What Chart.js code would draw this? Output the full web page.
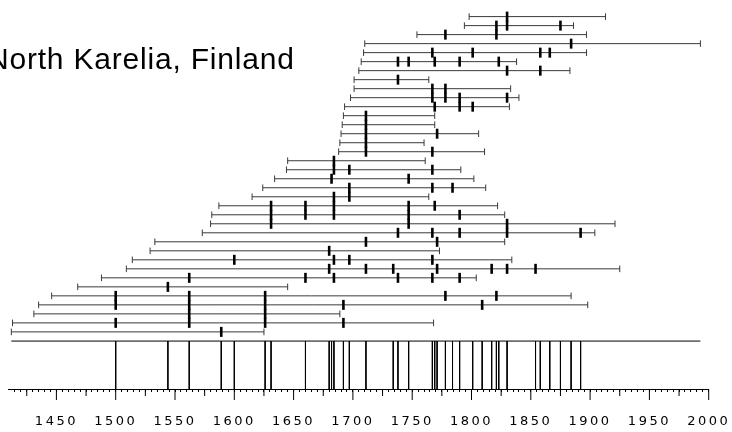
<!DOCTYPE html>
<html>
<head>
<meta charset="utf-8">
<script src="https://cdn.jsdelivr.net/npm/chart.js@4/dist/chart.umd.min.js"></script>
<style>
  html, body { margin: 0; padding: 0; background: #fff; }
  #wrap { position: relative; width: 732px; height: 432px; overflow: hidden; }
  #title {
    position: absolute; left: -13px; top: 44px;
    font-family: "Liberation Sans", Arial, sans-serif; font-size: 30px; line-height: 30px;
    letter-spacing: 0.8px; color: #000; white-space: nowrap;
  }
</style>
</head>
<body>
<div id="wrap">
  <canvas id="fire-chart"></canvas>
  <div id="title">North Karelia, Finland</div>
</div>
<script>
// one row per sampled tree, top to bottom
const ROW_START = [1798, 1794, 1754, 1710, 1709, 1707, 1705, 1701, 1701, 1698, 1693, 1692,
    1691, 1690, 1689, 1688, 1645, 1644, 1634, 1624, 1615, 1587, 1581, 1580,
    1573, 1533, 1529, 1514, 1509, 1488, 1468, 1446, 1435, 1431, 1413, 1412];
const ROW_END = [1913, 1886, 1897, 1993, 1897, 1838, 1883, 1764, 1833, 1840, 1832, 1769,
    1769, 1806, 1760, 1811, 1761, 1791, 1802, 1812, 1764, 1822, 1828, 1921,
    1904, 1828, 1773, 1834, 1925, 1804, 1645, 1884, 1898, 1689, 1768, 1625];
const ROW_SCARS = [
    [1830], [1821, 1830, 1875], [1778, 1821], [1884],
    [1767, 1801, 1858, 1866], [1738, 1747, 1769, 1790, 1823], [1830, 1858], [1738],
    [1767, 1778], [1767, 1778, 1790, 1830], [1769, 1790, 1801], [1711],
    [1711], [1711, 1771], [1711], [1711, 1767],
    [1684], [1684, 1697, 1767], [1682, 1747], [1697, 1767, 1784],
    [1684, 1697], [1631, 1660, 1684, 1747, 1769], [1631, 1660, 1684, 1747, 1790], [1631, 1747, 1830],
    [1738, 1767, 1790, 1830, 1892], [1711, 1771], [1680], [1600, 1684, 1697, 1767],
    [1680, 1711, 1734, 1771, 1817, 1830, 1854], [1562, 1660, 1684, 1738, 1767, 1790], [1544], [1500, 1562, 1626, 1778, 1821],
    [1500, 1562, 1626, 1692, 1809], [1562, 1626], [1500, 1562, 1626, 1692], [1589]
];
// composite fire years (bottom panel)
const COMPOSITE_YEARS = [1500, 1544, 1562, 1589, 1600, 1626, 1631, 1660, 1680, 1682, 1684,
    1692, 1697, 1711, 1734, 1738, 1747, 1767, 1769, 1771, 1778, 1784, 1790, 1801,
    1809, 1817, 1821, 1823, 1830, 1854, 1858, 1866, 1875, 1884, 1892];
const TICK_LABELS = [1450, 1500, 1550, 1600, 1650, 1700, 1750, 1800, 1850, 1900, 1950, 2000];

const PANEL_TOP = 36.02;
const Y_MAX = 41.34;
const TICK_YEARS = [];
for (let y = 1415; y <= 2000; y += 5) TICK_YEARS.push(y);

const LINE_COLOR = '#3a3a3a';

const rowSets = ROW_START.map((s, i) => ({
    data: [{ x: s, y: i }, { x: ROW_END[i], y: i }],
    showLine: true,
    borderColor: LINE_COLOR,
    borderWidth: 1,
    pointStyle: 'line',
    rotation: 90,
    pointRadius: 3.3,
    pointBorderColor: LINE_COLOR,
    pointBorderWidth: 1,
    order: 2
}));

const scarSet = {
    data: ROW_SCARS.flatMap((yrs, i) => yrs.map(x => ({ x: x, y: i }))),
    showLine: false,
    pointStyle: 'line',
    rotation: 90,
    pointRadius: 5,
    pointBorderColor: '#000',
    pointBorderWidth: 2.6,
    order: 0
};

const compositeSets = COMPOSITE_YEARS.map(yr => ({
    data: [{ x: yr, y: PANEL_TOP }, { x: yr, y: Y_MAX }],
    showLine: true,
    borderColor: '#000',
    borderWidth: 1,
    pointRadius: 0,
    order: 1
}));

const panelTopSet = {
    data: [{ x: Math.min(...ROW_START), y: PANEL_TOP }, { x: Math.max(...ROW_END), y: PANEL_TOP }],
    showLine: true,
    borderColor: '#000',
    borderWidth: 1,
    pointRadius: 0,
    order: 1
};

// 25 and 50 year ticks are longer than the 5 year ones
const longTicks = {
    id: 'longTicks',
    beforeDraw(chart) { chart.ctx.letterSpacing = '2.5px'; },
    afterDraw(chart) {
        const s = chart.scales.x, ctx = chart.ctx, y0 = chart.chartArea.bottom;
        ctx.save();
        ctx.strokeStyle = '#000';
        ctx.lineWidth = 1;
        s.ticks.forEach(t => {
            const len = t.value % 50 === 0 ? 11 : (t.value % 25 === 0 ? 7 : 0);
            if (!len) return;
            const x = s.getPixelForValue(t.value);
            ctx.beginPath();
            ctx.moveTo(x, y0);
            ctx.lineTo(x, y0 + len);
            ctx.stroke();
        });
        ctx.restore();
    }
};

new Chart(document.getElementById('fire-chart'), {
    type: 'scatter',
    data: { datasets: [scarSet, ...compositeSets, panelTopSet, ...rowSets] },
    options: {
        responsive: true,
        maintainAspectRatio: false,
        animation: false,
        events: [],
        layout: { padding: { left: 8.96, right: 23.3, top: 5.95, bottom: 0 } },
        datasets: { scatter: { clip: false } },
        plugins: { legend: { display: false }, tooltip: { enabled: false } },
        scales: {
            x: {
                type: 'linear', min: 1410, max: 2000,
                afterBuildTicks: s => { s.ticks = TICK_YEARS.map(v => ({ value: v })); },
                afterFit: s => { s.height = 43; s.paddingLeft = 0; s.paddingRight = 0; },
                grid: { display: true, drawOnChartArea: false, drawTicks: true, tickLength: 3, color: '#000', lineWidth: 1 },
                border: { display: true, color: '#000', width: 1 },
                ticks: {
                    autoSkip: false, maxRotation: 0, minRotation: 0, padding: 22, color: '#000',
                    font: { family: 'DejaVu Sans', size: 13 },
                    callback: v => TICK_LABELS.includes(v) ? String(v) : ''
                }
            },
            y: { display: false, reverse: true, min: -1, max: Y_MAX }
        }
    },
    plugins: [longTicks]
});
</script>
</body>
</html>
